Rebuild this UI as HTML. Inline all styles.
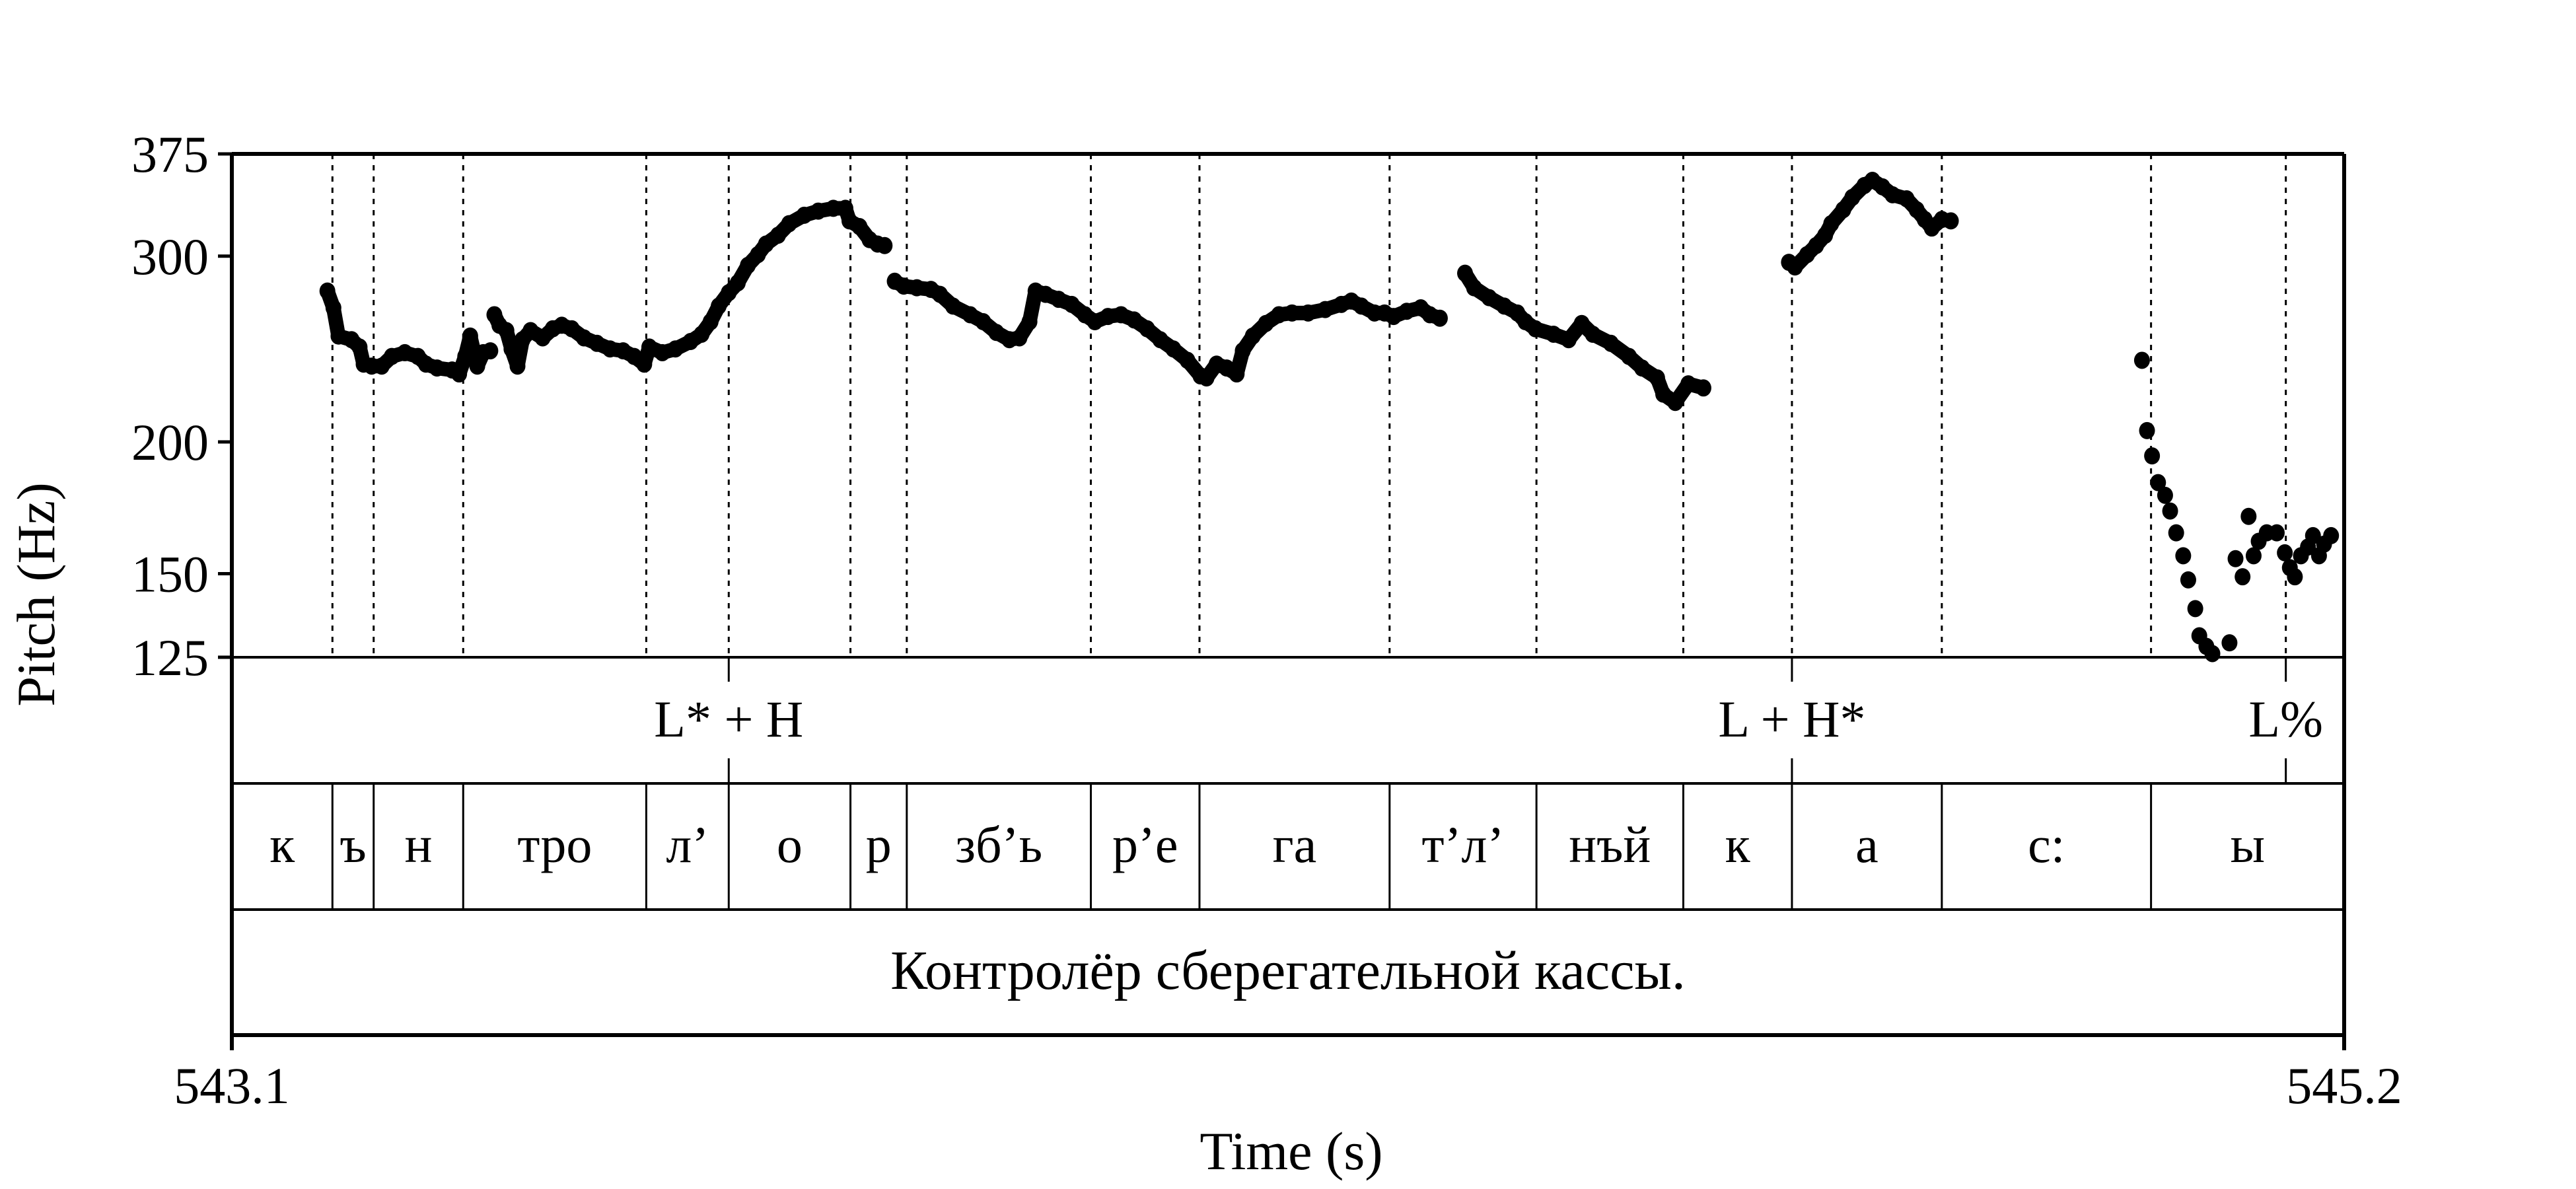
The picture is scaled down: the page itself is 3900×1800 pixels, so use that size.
<!DOCTYPE html>
<html><head><meta charset="utf-8"><title>Pitch track</title>
<style>html,body{margin:0;padding:0;background:#fff;}svg{display:block;}</style></head>
<body>
<svg id="chart" width="3900" height="1800" viewBox="0 0 3900 1800" xmlns="http://www.w3.org/2000/svg" font-family="'Liberation Serif', 'DejaVu Serif', serif"></svg>
<script>
const pitchTimes = [543.195,543.201,543.206,543.219,543.227,543.231,543.239,543.249,543.259,543.272,543.285,543.293,543.304,543.319,543.326,543.332,543.337,543.344,543.350,543.357,543.361,543.366,543.373,543.378,543.384,543.389,543.397,543.409,543.419,543.428,543.438,543.450,543.463,543.476,543.489,543.500,543.510,543.515,543.528,543.541,543.556,543.567,543.576,543.584,543.594,543.603,543.613,543.623,543.631,543.643,543.654,543.669,543.683,543.698,543.710,543.714,543.724,543.734,543.742,543.749,
543.759,543.768,543.781,543.795,543.804,543.817,543.834,543.847,543.860,543.873,543.883,543.893,543.899,543.909,543.922,543.935,543.948,543.958,543.971,543.984,543.997,544.010,544.023,544.036,544.050,544.063,544.069,544.079,544.089,544.099,544.105,544.115,544.128,544.141,544.154,544.170,544.187,544.203,544.213,544.223,544.236,544.246,544.255,544.268,544.282,544.291,544.301,
544.326,544.335,544.350,544.365,544.378,544.386,544.396,544.414,544.429,544.442,544.453,544.471,544.489,544.502,544.517,544.523,544.535,544.548,544.563,
544.648,544.654,544.666,544.675,544.684,544.690,544.702,544.711,544.723,544.731,544.741,544.751,544.765,544.775,544.783,544.790,544.800,544.809,
544.999,545.004,545.009,545.015,545.022,545.027,545.033,545.040,545.045,545.052,545.056,545.063,545.069,545.086,545.092,545.099,545.105,545.110,545.115,545.123,545.133,545.141,545.146,545.151,545.157,545.164,545.169,545.175,545.180,545.187];
const pitchHz = [278,268,252,250,246,237,236,236,241,243,241,237,235,234,232,241,252,236,243,244,264,258,255,245,236,250,255,251,256,258,256,251,248,245,244,241,237,246,243,245,249,253,260,269,277,283,294,301,308,314,322,328,331,333,333,324,320,311,308,307,
284,281,280,279,276,269,264,260,254,250,251,260,278,276,273,270,264,260,263,264,261,256,250,245,239,231,230,237,235,232,244,252,259,264,265,265,267,270,272,269,265,265,263,266,268,264,262,
289,280,274,269,265,260,256,253,250,259,253,248,241,235,230,222,218,227,225,
296,293,301,307,314,322,332,341,350,354,349,343,340,332,325,319,325,324,
239,205,194,183,178,172,164,156,148,139,131,128,126,129,155,149,170,156,161,164,164,157,152,149,156,159,163,156,160,163];
const yTicks = [125,150,200,300,375];
const xTickLabels = ["543.1","545.2"];
const xDomain = [543.1,545.2];
const yDomain = [125,375];
const segBounds = [543.100,543.200,543.241,543.330,543.512,543.594,543.715,543.771,543.954,544.062,544.251,544.397,544.543,544.651,544.800,545.008,545.200];
const segLabels = ["к","ъ","н","тро","л’","о","р","зб’ь","р’е","га","т’л’","нъй","к","а","с:","ы"];
const toneTimes = [543.594,544.651,545.142];
const toneLabels = ["L* + H","L + H*","L%"];
const sentence = "Контролёр сберегательной кассы.";

const NS="http://www.w3.org/2000/svg";
const svg=document.getElementById('chart');
const L=351,R=3549,T=233,B=995,T1=1186,T2=1377,T3=1567;
const xs=t=>L+(t-xDomain[0])/(xDomain[1]-xDomain[0])*(R-L);
const ys=h=>B-Math.log(h/yDomain[0])/Math.log(yDomain[1]/yDomain[0])*(B-T);
function mk(tag,attrs,parent){const e=document.createElementNS(NS,tag);for(const k in attrs)e.setAttribute(k,attrs[k]);(parent||svg).appendChild(e);return e;}

const dotted=[...segBounds.slice(1,-1),toneTimes[2]];
dotted.forEach(t=>{const l=mk('line',{x1:xs(t),x2:xs(t),y1:T,y2:B,stroke:'#000','stroke-width':3,'stroke-dasharray':'8,9'});

});

for(let i=1;i<pitchTimes.length;i++){
  const dt=pitchTimes[i]-pitchTimes[i-1],r=pitchHz[i]/pitchHz[i-1];
  if(dt<0.02&&r<1.07&&r>0.93&&pitchTimes[i]<544.9){
    const l=mk('line',{x1:xs(pitchTimes[i-1]),y1:ys(pitchHz[i-1]),x2:xs(pitchTimes[i]),y2:ys(pitchHz[i]),stroke:'#000','stroke-width':22,'stroke-linecap':'round'});
    
    
  }
}
pitchTimes.forEach((t,i)=>{const c=mk('ellipse',{cx:xs(t),cy:ys(pitchHz[i]),rx:12,ry:13,fill:'#000'});

});

yTicks.forEach(v=>{const y=ys(v);
mk('line',{x1:330,x2:L,y1:y,y2:y,stroke:'#000','stroke-width':5});
const tx=mk('text',{x:316,y:y+27,'text-anchor':'end','font-size':78});tx.textContent=v;

});

mk('line',{x1:L,x2:R,y1:T,y2:T,stroke:'#000','stroke-width':6});
mk('line',{x1:L,x2:R,y1:B,y2:B,stroke:'#000','stroke-width':4});
mk('line',{x1:L,x2:R,y1:T1,y2:T1,stroke:'#000','stroke-width':4});
mk('line',{x1:L,x2:R,y1:T2,y2:T2,stroke:'#000','stroke-width':4});
mk('line',{x1:L,x2:R,y1:T3,y2:T3,stroke:'#000','stroke-width':6});
mk('line',{x1:L,x2:L,y1:T,y2:1590,stroke:'#000','stroke-width':6});
mk('line',{x1:R,x2:R,y1:T,y2:1590,stroke:'#000','stroke-width':6});

toneTimes.forEach((t,i)=>{const x=xs(t);
mk('line',{x1:x,x2:x,y1:B,y2:1032,stroke:'#000','stroke-width':3});
mk('line',{x1:x,x2:x,y1:1148,y2:T1,stroke:'#000','stroke-width':3});
const tx=mk('text',{x:x,y:1115,'text-anchor':'middle','font-size':78});tx.textContent=toneLabels[i];

});

segBounds.slice(1,-1).forEach(t=>{mk('line',{x1:xs(t),x2:xs(t),y1:T1,y2:T2,stroke:'#000','stroke-width':3});});
segLabels.forEach((s,i)=>{const tx=mk('text',{x:(xs(segBounds[i])+xs(segBounds[i+1]))/2,y:1305,'text-anchor':'middle','font-size':78});tx.textContent=s;

});

const st=mk('text',{x:(L+R)/2,y:1497,'text-anchor':'middle','font-size':84});st.textContent=sentence;



xDomain.forEach((t,i)=>{const tx=mk('text',{x:xs(t),y:1670,'text-anchor':'middle','font-size':78});tx.textContent=xTickLabels[i];

});

const xt=mk('text',{x:1955,y:1770,'text-anchor':'middle','font-size':82});xt.textContent="Time (s)";


const yt=mk('text',{x:0,y:0,'text-anchor':'middle','font-size':82,transform:'translate(82,900) rotate(-90)'});yt.textContent="Pitch (Hz)";


</script>
</body></html>
